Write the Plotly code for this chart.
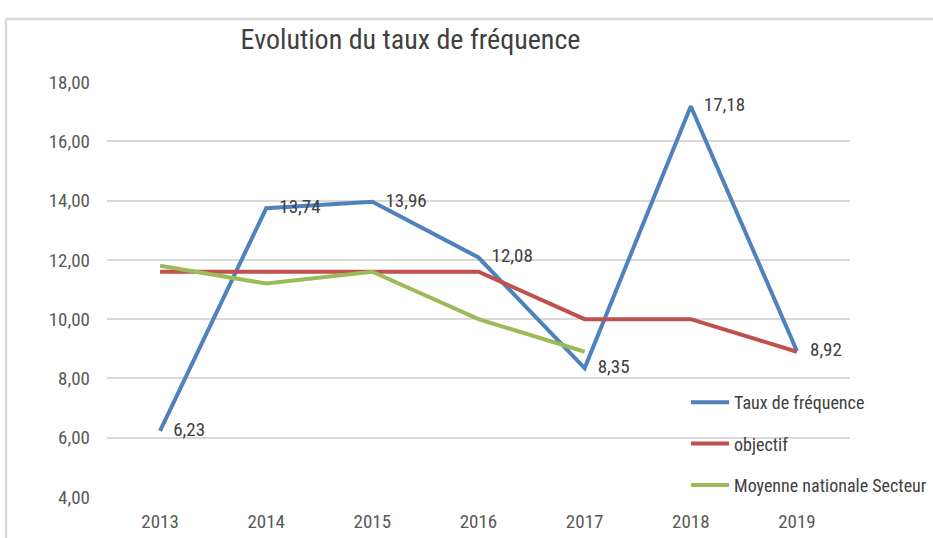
import plotly.graph_objects as go

years = ["2013", "2014", "2015", "2016", "2017", "2018", "2019"]
taux = [6.23, 13.74, 13.96, 12.08, 8.35, 17.18, 8.92]
objectif = [11.6, 11.6, 11.6, 11.6, 10.0, 10.0, 8.9]
moyenne = [11.8, 11.2, 11.6, 10.0, 8.9, None, None]
y_ticks = [4, 6, 8, 10, 12, 14, 16, 18]

FONT = "Liberation Sans Narrow, Roboto Condensed, Arial Narrow, sans-serif"

fig = go.Figure()
fig.add_trace(go.Scatter(
    x=years, y=taux, name="Taux de fréquence", mode="lines+text",
    line=dict(color="#4f81bd", width=4),
    text=["   " + f"{v:.2f}".replace(".", ",") for v in taux],
    textposition="middle right",
    textfont=dict(family=FONT, size=19, color="#404040"),
    legendgroup="a", cliponaxis=False,
))
fig.add_trace(go.Scatter(
    x=years, y=objectif, name="objectif", mode="lines",
    line=dict(color="#c0504d", width=4), legendgroup="b",
))
fig.add_trace(go.Scatter(
    x=years, y=moyenne, name="Moyenne nationale Secteur", mode="lines",
    line=dict(color="#9bbb59", width=4), legendgroup="c",
))

fig.update_layout(
    width=933, height=538,
    margin=dict(l=107, r=83, t=82, b=41, autoexpand=False),
    paper_bgcolor="white", plot_bgcolor="white",
    separators=", ",
    font=dict(family=FONT, size=19, color="#595959"),
    title=dict(text="Evolution du taux de fréquence", x=0.44, xanchor="center",
               y=0.928, yanchor="middle",
               font=dict(family=FONT, size=28, color="#404040")),
    showlegend=True,
    legend=dict(xref="container", yref="container", x=0.7353, y=0.2862,
                xanchor="left", yanchor="top",
                bgcolor="rgba(0,0,0,0)", traceorder="grouped", itemwidth=38,
                tracegroupgap=15, font=dict(family=FONT, size=18, color="#404040")),
    xaxis=dict(type="category", range=[-0.5, 6.5], showgrid=False, showline=False,
               ticks="", ticklabelstandoff=11, tickfont=dict(size=19, color="#595959")),
    yaxis=dict(range=[4, 18], tickvals=y_ticks, tickformat=".2f",
               showgrid=True, gridcolor="#d9d9d9", gridwidth=1.5,
               zeroline=False, showline=False, ticks="", ticklabelstandoff=16,
               tickfont=dict(size=19, color="#595959")),
    shapes=[
        dict(type="line", xref="paper", yref="paper", x0=-0.137, x1=1.2, y0=1.152, y1=1.152,
             line=dict(color="#dcdcdc", width=2.5)),
        dict(type="line", xref="paper", yref="paper", x0=-0.136, x1=-0.136, y0=1.152, y1=-0.2,
             line=dict(color="#dcdcdc", width=2.5)),
    ],
)

fig.write_html("out.html", config={"displayModeBar": False},
               post_script="document.body.style.margin='0px';")
